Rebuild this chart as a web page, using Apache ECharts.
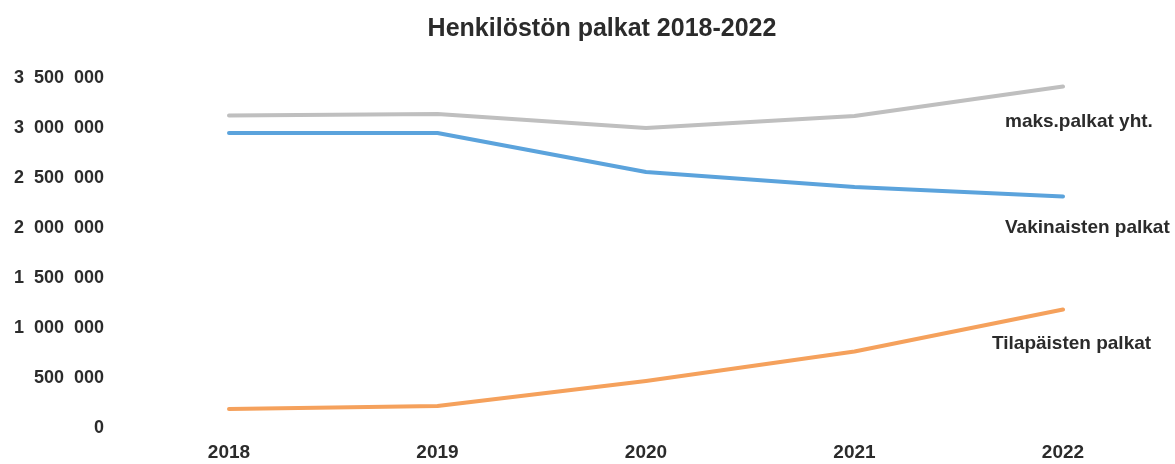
<!DOCTYPE html>
<html>
<head>
<meta charset="utf-8">
<script src="https://cdn.jsdelivr.net/npm/echarts@6/dist/echarts.min.js"></script>
<style>html,body{margin:0;padding:0;background:#fff}#c{width:1175px;height:464px}</style>
</head>
<body>
<div id="c"></div>
<script>
const title = 'Henkilöstön palkat 2018-2022';
const years = ['2018', '2019', '2020', '2021', '2022'];
const seriesNames = ['maks.palkat yht.', 'Vakinaisten palkat', 'Tilapäisten palkat'];
const maksPalkat = [3125000, 3140000, 3000000, 3120000, 3415000];
const vakinaiset = [2950000, 2950000, 2560000, 2410000, 2315000];
const tilapaiset = [190000, 220000, 470000, 765000, 1185000];
const yTickLabels = ['0', '500  000', '1  000  000', '1  500  000', '2  000  000', '2  500  000', '3  000  000', '3  500  000'];

const FONT = "'Liberation Sans', Arial, sans-serif";
const TXT = '#2b2b2b';
const chart = echarts.init(document.getElementById('c'), null, {renderer: 'canvas'});

function lineSeries(name, data, color, offset) {
  return {
    name: name, type: 'line', data: data, symbol: 'none', smooth: false,
    lineStyle: {color: color, width: 4, cap: 'round', join: 'round'},
    itemStyle: {color: color},
    endLabel: {
      show: true, formatter: name, color: TXT, fontFamily: FONT,
      fontWeight: 'bold', fontSize: 19, align: 'left', verticalAlign: 'middle',
      offset: offset
    },
    emphasis: {disabled: true}
  };
}

chart.setOption({
  animation: false,
  title: {
    text: title, left: 597, top: 12, textAlign: 'center',
    textStyle: {fontFamily: FONT, fontWeight: 'bold', fontSize: 25, color: TXT}
  },
  grid: {left: 229, right: 112, top: 78, bottom: 36, containLabel: false},
  xAxis: {
    type: 'category', data: years, boundaryGap: false,
    axisLine: {show: false}, axisTick: {show: false}, splitLine: {show: false},
    axisLabel: {margin: 15, color: TXT, fontFamily: FONT, fontWeight: 'bold', fontSize: 19}
  },
  yAxis: {
    type: 'value', min: 0, max: 3500000, interval: 500000,
    axisLine: {show: false}, axisTick: {show: false}, splitLine: {show: false},
    axisLabel: {
      margin: 125, color: TXT, fontFamily: FONT, fontWeight: 'bold', fontSize: 18,
      formatter: function (v) { return yTickLabels[Math.round(v / 500000)]; }
    }
  },
  series: [
    lineSeries(seriesNames[0], maksPalkat, '#bfbfbf', [-66, 35]),
    lineSeries(seriesNames[1], vakinaiset, '#5ba3dc', [-66, 31]),
    lineSeries(seriesNames[2], tilapaiset, '#f5a15c', [-79, 34])
  ]
});
</script>
</body>
</html>
